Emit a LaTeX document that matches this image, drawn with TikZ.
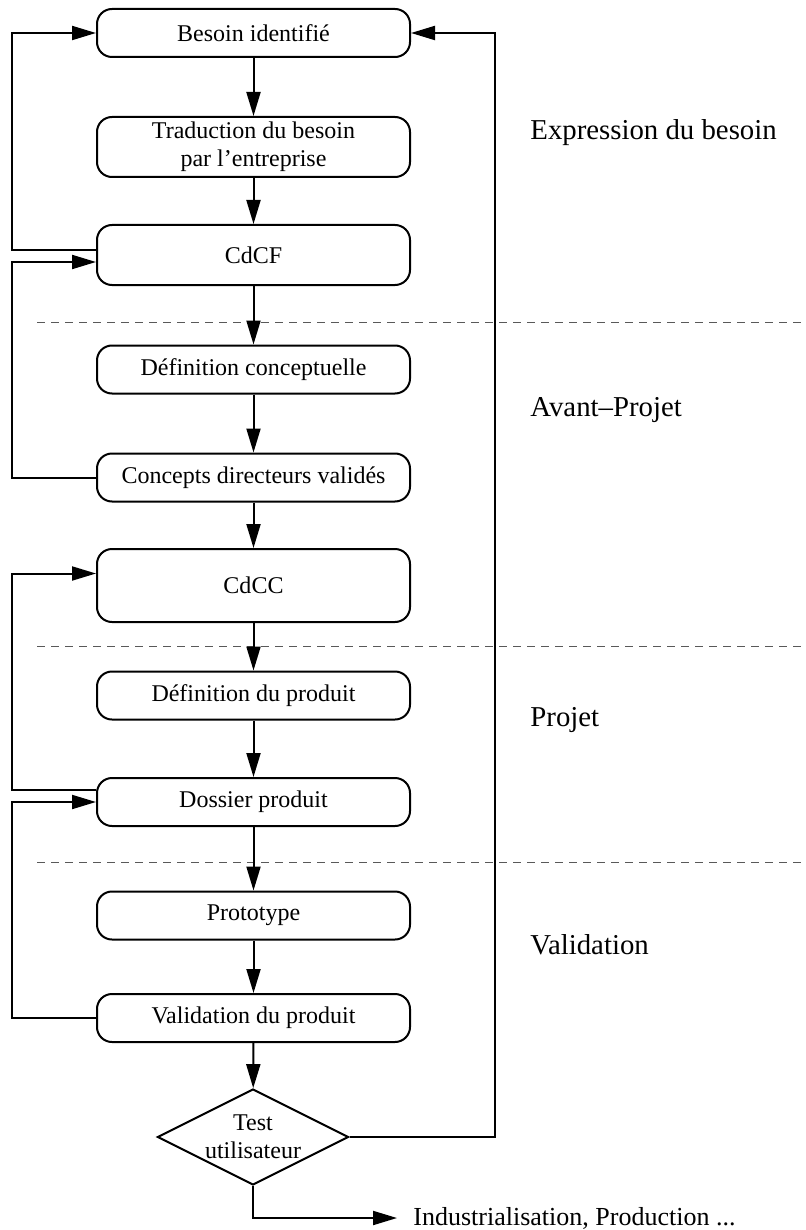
\documentclass[tikz,border=0pt]{standalone}
\usepackage{fontspec}
\setmainfont{Liberation Serif}
\usetikzlibrary{arrows.meta,shapes.geometric}

\begin{document}
\begin{tikzpicture}[x=0.5pt,y=-0.5pt]
        \tikzstyle{every node}=[font=\fontsize{12}{14}\selectfont]
        \tikzstyle{etape}=[draw, line width=1pt, rounded corners=7.5pt, minimum width=156.5pt, minimum height=24pt, inner ysep=1.5pt, align=center]
        \tikzstyle{decision}=[draw, diamond, line width=1pt, aspect=2, inner sep=0pt, minimum width=95.5pt, minimum height=48pt, align=center]
        \tikzstyle{phase}=[anchor=west, inner sep=0pt, font=\fontsize{14.4}{17}\selectfont]
        \tikzstyle{fleche}=[line width=1pt, -{Triangle[length=12pt,width=7pt]}]
        \tikzstyle{separation}=[gray!70!black, line width=0.5pt, dash pattern=on 4pt off 3pt]
        \useasboundingbox (0,0) rectangle (806,1230);

        \node[etape] (besoin) at (253.5,33) {Besoin identifié};
        \node[etape, minimum height=30pt] (traduction) at (253.5,147) {Traduction du besoin\\par l'entreprise};
        \node[etape, minimum height=30pt] (cdcf) at (253.5,255) {CdCF};
        \node[etape] (defconcept) at (253.5,369.5) {Définition conceptuelle};
        \node[etape] (concepts) at (253.5,477.5) {Concepts directeurs validés};
        \node[etape, minimum height=36.5pt] (cdcc) at (253.5,585.5) {CdCC};
        \node[etape] (defproduit) at (253.5,695.5) {Définition du produit};
        \node[etape] (dossier) at (253.5,802) {Dossier produit};
        \node[etape] (prototype) at (253.5,915.5) {Prototype};
        \node[etape] (validation) at (253.5,1018) {Validation du produit};
        \node[decision] (test) at (253,1137) {Test\\utilisateur};
        \node[anchor=west, inner sep=8pt, font=\fontsize{13}{15}\selectfont] (indus) at (397,1218) {Industrialisation, Production ...};

        \node[phase] (expression) at (530,133) {Expression du besoin};
        \node[phase] (avantprojet) at (530,410) {Avant--Projet};
        \node[phase] (projet) at (530,720) {Projet};
        \node[phase] (valid) at (530,945) {Validation};

        \foreach \y in {322,646,862}
            \draw[separation] (37,\y) -- (806,\y);

        \draw[fleche] (besoin) -- (traduction);
        \draw[fleche] (traduction) -- (cdcf);
        \draw[fleche] (cdcf) -- (defconcept);
        \draw[fleche] (defconcept) -- (concepts);
        \draw[fleche] (concepts) -- (cdcc);
        \draw[fleche] (cdcc) -- (defproduit);
        \draw[fleche] (defproduit) -- (dossier);
        \draw[fleche] (dossier) -- (prototype);
        \draw[fleche] (prototype) -- (validation);
        \draw[fleche] (validation) -- (test);

        \draw[fleche] ([yshift=2.5pt]cdcf.west) -- ++(-84,0) |- (besoin.west);
        \draw[fleche] (concepts.west) -- ++(-84,0) |- ([yshift=-3.5pt]cdcf.west);
        \draw[fleche] ([yshift=6pt]dossier.west) -- ++(-84,0) |- ([yshift=6pt]cdcc.west);
        \draw[fleche] (validation.west) -- ++(-84,0) |- (dossier.west);
        \draw[fleche] (test.east) -- ++(145,0) |- (besoin.east);
        \draw[fleche] (test.south) |- (indus.west);
    \end{tikzpicture}
\end{document}
